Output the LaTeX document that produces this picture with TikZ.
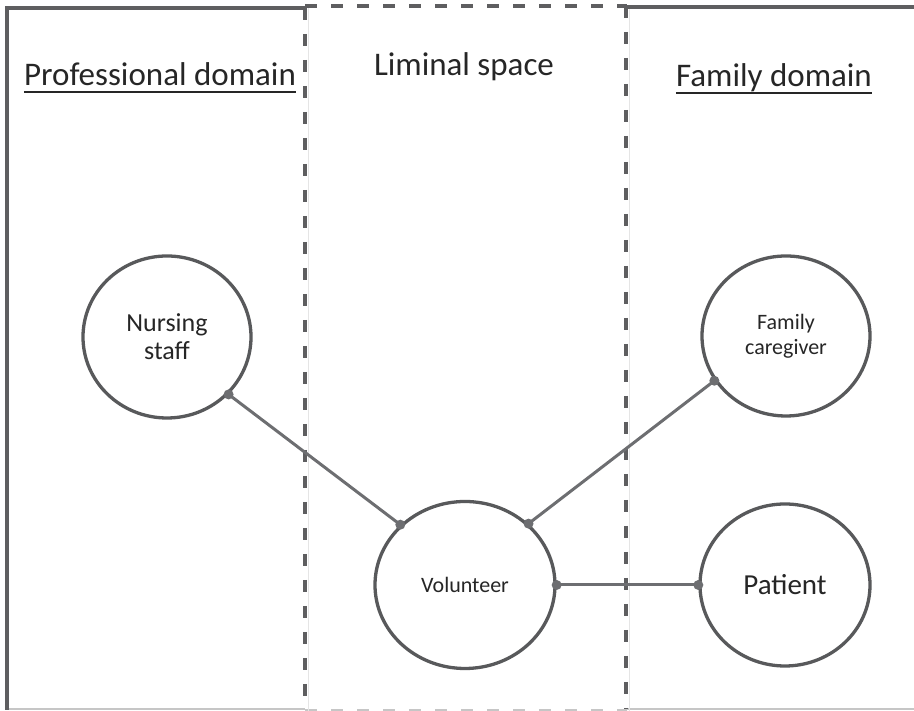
\documentclass[tikz,border=0pt]{standalone}
\usepackage{fontspec}
\setmainfont{Carlito}
\usetikzlibrary{shapes.geometric}

\definecolor{framegray}{HTML}{5E5E60}
\definecolor{ringgray}{HTML}{58595B}
\definecolor{linkgray}{HTML}{6D6E71}
\definecolor{textgray}{HTML}{262626}

\begin{document}
\begin{tikzpicture}[x=1pt,y=1pt,
  frame/.style={framegray,line width=3.5pt},
  dashframe/.style={framegray,line width=4pt,dash pattern=on 12pt off 14pt},
  thinframe/.style={gray!45,line width=1.2pt},
  party/.style={ellipse,draw=ringgray,line width=3.3pt,align=center,text=textgray,inner sep=0pt},
  link/.style={linkgray,line width=3pt},
  title/.style={anchor=base,inner sep=0pt,text=textgray,font=\fontsize{33}{40}\selectfont}]
\useasboundingbox (0,0) rectangle (914,711);

\draw [thinframe] (7,2) -- (305,2);
\draw [thinframe,dash pattern=on 12pt off 14pt] (305,1) -- (627,1);
\draw [thinframe] (627,2) -- (914,2);
\draw [gray!20,line width=1pt] (308,0) -- (308,705);
\draw [gray!20,line width=1pt] (629,0) -- (629,705);

\draw [frame] (7,1) -- (7,703) -- (305,703);
\draw [frame] (627,704) -- (914,704);
\draw [dashframe] (305,705) -- (627,705);
\draw [dashframe] (305,703) -- (305,2);
\draw [dashframe] (626,705) -- (626,2);

\node [title] (prof) at (160,625) {Professional domain};
\node [title] (liminal) at (464,635) {Liminal space};
\node [title] (family) at (774,624) {Family domain};
\draw [textgray,line width=2pt] ([yshift=-6pt]prof.base west) -- ([yshift=-6pt]prof.base east);
\draw [textgray,line width=2pt] ([yshift=-6pt]family.base west) -- ([yshift=-6pt]family.base east);

\node [party,minimum width=168,minimum height=162,font=\fontsize{26}{28}\selectfont] (nurse) at (167,374) {Nursing\\staff};
\node [party,minimum width=180,minimum height=167,font=\fontsize{22}{25}\selectfont] (vol) at (465,126) {Volunteer};
\node [party,minimum width=168,minimum height=160,font=\fontsize{22}{25}\selectfont] (care) at (786,375) {Family\\caregiver};
\node [party,minimum width=170,minimum height=162,font=\fontsize{29}{32}\selectfont] (pat) at (785,126) {Patient};

\draw [link] (nurse.-43) -- (vol.137);
\draw [link] (vol.44) -- (care.212);
\draw [link] (vol.east) -- (pat.west);
\foreach \p in {nurse.-43,vol.137,vol.44,care.212,vol.east,pat.west}
  \fill [linkgray] (\p) circle (5pt);
\end{tikzpicture}
\end{document}
